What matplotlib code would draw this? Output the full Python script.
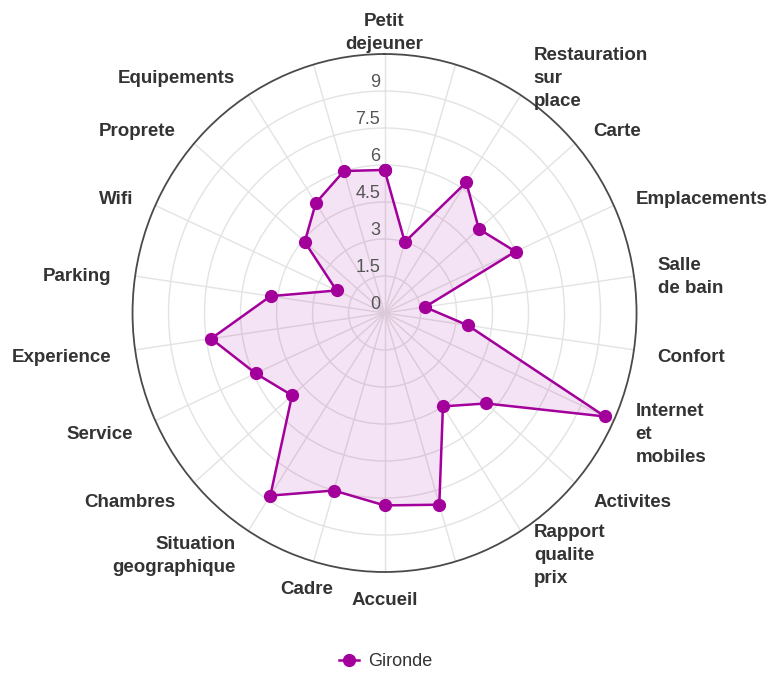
import numpy as np
import matplotlib.pyplot as plt
from matplotlib.lines import Line2D
from matplotlib.transforms import offset_copy

# Data (22 spokes, three labels are hidden in the original chart)
categories = ["Petit\ndejeuner", "", "Restauration\nsur\nplace", "Carte",
              "Emplacements", "Salle\nde bain", "Confort", "Internet\net\nmobiles",
              "Activites", "Rapport\nqualite\nprix", "", "Accueil", "Cadre",
              "Situation\ngeographique", "Chambres", "Service", "Experience",
              "Parking", "Wifi", "Proprete", "Equipements", ""]
gironde = [5.8, 3.0, 6.3, 5.2, 6.0, 1.7, 3.5, 10.1, 5.6, 4.5, 8.1,
           7.8, 7.5, 8.8, 5.1, 5.9, 7.3, 4.8, 2.2, 4.4, 5.3, 6.0]
series_name = "Gironde"
rticks = [0, 1.5, 3, 4.5, 6, 7.5, 9]
rmax = 10.5

color = "#a3009b"
plt.rcParams['font.family'] = ['Liberation Sans', 'DejaVu Sans']

fig = plt.figure(figsize=(7.71, 6.77), dpi=100)
ax = fig.add_axes([0.1719, 0.1551, 0.6537, 0.7651], projection='polar')
ax.set_aspect('auto')
ax.set_theta_zero_location('N')
ax.set_theta_direction(-1)
ax.set_ylim(0, rmax)

n = len(categories)
theta = np.linspace(0, 2 * np.pi, n, endpoint=False)
th_closed = np.append(theta, theta[0])
v_closed = np.append(gironde, gironde[0])

# grid
ax.set_xticks(theta)
ax.set_xticklabels([])
ax.set_yticks(rticks[1:])
ax.set_yticklabels([])
ax.tick_params(length=0)
ax.grid(color='#e3e3e3', lw=1)
ax.set_axisbelow(True)
ax.spines['polar'].set_color('#4a4a4a')
ax.spines['polar'].set_linewidth(1.3)

# series
ax.fill(th_closed, v_closed, color=color, alpha=0.11, lw=0, zorder=2)
ax.plot(th_closed, v_closed, color=color, lw=1.8, marker='o', ms=8.5,
        zorder=4, clip_on=False)

# category labels
lab_trans = offset_copy(ax.transData, fig=fig, x=0, y=-4, units='dots')
for t, lab in zip(theta, categories):
    deg = np.degrees(t)
    if deg < 20 or deg > 340 or 160 < deg < 200:
        ha = 'center'
    elif deg < 180:
        ha = 'left'
    else:
        ha = 'right'
    ax.text(t, 11.5, lab, transform=lab_trans, ha=ha, va='center',
            fontsize=13.5, fontweight='bold', color='#333333',
            linespacing=1.45)

# radial tick labels
trans = offset_copy(ax.transData, fig=fig, x=-4.5, y=9, units='dots')
for r in rticks:
    ax.text(0, r, f"{r:g}", transform=trans, ha='right', va='center',
            fontsize=13, color='#555555', zorder=5)

handle = Line2D([], [], color=color, lw=1.8, marker='o', ms=8.5)
fig.legend([handle], [series_name], loc='center',
           bbox_to_anchor=(0.5, 1 - 662 / 677), frameon=False, fontsize=13,
           handlelength=1.1, handletextpad=0.5, labelcolor='#333333')

fig.savefig('out.png', dpi=100)
